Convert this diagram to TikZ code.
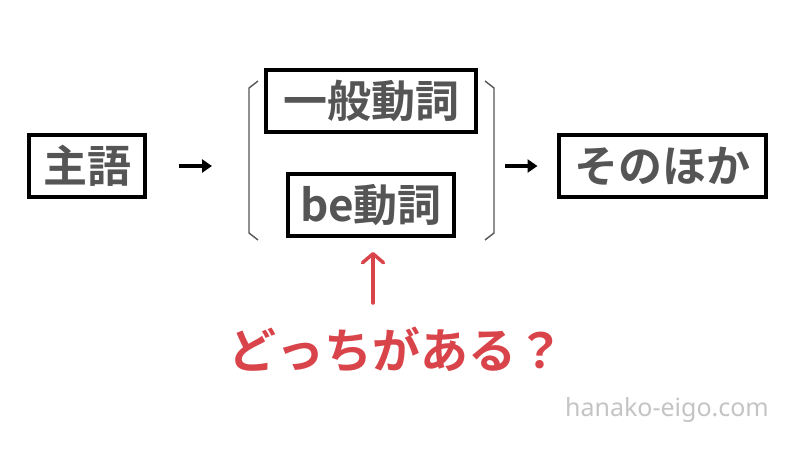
\documentclass[tikz,border=0pt]{standalone}
\usepackage{fontspec}
\setmainfont{Noto Sans}
\newfontfamily\jp[BoldFont={Noto Sans CJK JP Bold}]{Noto Sans CJK JP}
\usetikzlibrary{arrows.meta}
\definecolor{txtgray}{HTML}{555555}
\definecolor{redc}{HTML}{D9434A}
\definecolor{wmgray}{HTML}{C4C4C4}
\begin{document}
\begin{tikzpicture}[x=1pt,y=-1pt,
  wbox/.style={draw=black,line width=4pt,fill=white,inner sep=0pt,text=txtgray,
    font=\jp\bfseries\fontsize{44}{44}\selectfont,minimum height=62pt},
  blackarr/.style={draw=black,line width=3.5pt,-{Triangle[length=10pt,width=13pt]}},
  redarr/.style={draw=redc,line width=3.5pt,line cap=round,-{Straight Barb[length=9pt,width=21pt,round]}},
  brk/.style={draw=txtgray,line width=1.4pt}]
\useasboundingbox (0,0) rectangle (800,450);
\fill[white] (0,0) rectangle (800,450);
\node[wbox,minimum width=116pt] (shugo) at (87,166) {主語};
\node[wbox,minimum width=210pt] (ippan) at (371,101) {一般動詞};
\node[wbox,minimum width=166pt] (be) at (371,205) {be動詞};
\node[wbox,minimum width=207pt] (sonota) at (662,166) {そのほか};
\coordinate (bl) at (248,166);
\coordinate (br) at (495,166);
\draw[brk] (258,81) -- (249,88) -- (249,233) -- (258,240);
\draw[brk] (485,81) -- (494,88) -- (494,233) -- (485,240);
\draw[blackarr,shorten <=32pt,shorten >=36pt] (shugo.east) -- (bl);
\draw[blackarr,shorten <=10pt,shorten >=19pt] (br) -- (sonota.west);
\node[text=redc,font=\jp\bfseries\fontsize{48}{48}\selectfont,inner sep=0pt] (q) at (396,350) {どっちがある？};
\coordinate (qtop) at (373,303);
\draw[redarr,shorten >=14pt] (qtop) -- (qtop |- be.south);
\node[text=wmgray,font=\fontsize{25}{25}\selectfont,inner sep=0pt] (wm) at (667,410) {hanako-eigo.com};
\end{tikzpicture}
\end{document}
